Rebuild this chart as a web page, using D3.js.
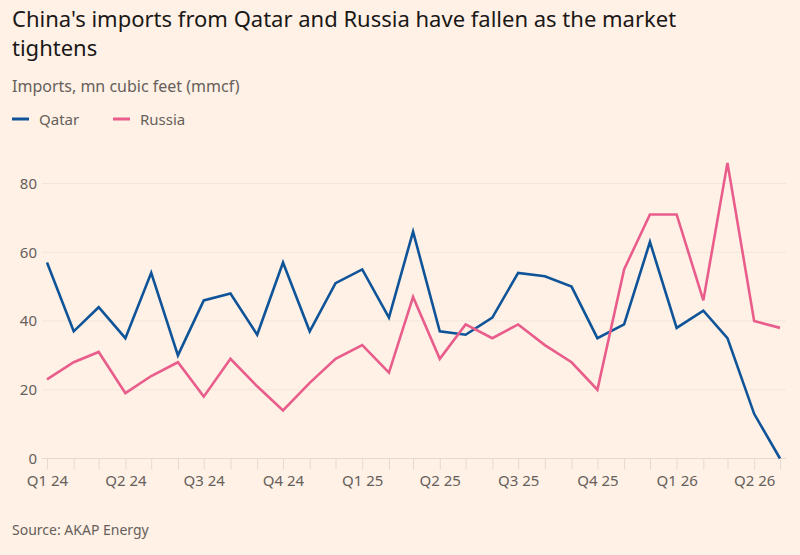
<!DOCTYPE html>
<html>
<head>
<meta charset="utf-8">
<script src="https://cdn.jsdelivr.net/npm/d3@7"></script>
<style>
  body { margin: 0; background: #fff1e5; }
  svg { display: block; font-family: "Noto Sans", sans-serif; }
</style>
</head>
<body>
<svg width="800" height="555"></svg>
<script>
// data ======================================================
// monthly, Jan 2024 .. May 2026
var months = d3.range(29).map(function(i) { return new Date(2024, i, 1); });
var qatar = [57, 37, 44, 35, 54, 30, 46, 48, 36, 57, 37, 51, 55, 41, 66, 37, 36, 41, 54, 53, 50, 35, 39, 63, 38, 43, 35, 13, 0];
var russia = [23, 28, 31, 19, 24, 28, 18, 29, 21, 14, 22, 29, 33, 25, 47, 29, 39, 35, 39, 33, 28, 20, 55, 71, 71, 46, 86, 40, 38];
var yTicks = [0, 20, 40, 60, 80];
var seriesNames = ["Qatar", "Russia"];
var seriesColors = ["#0f5499", "#e95d8c"];

var svg = d3.select("svg"),
    width = +svg.attr("width"),
    height = +svg.attr("height");

svg.append("rect").attr("width", width).attr("height", height).attr("fill", "#fff1e5");

// header
var title = svg.append("text")
    .attr("x", 12)
    .attr("fill", "#1a1817")
    .attr("font-size", 22);
title.append("tspan").attr("x", 12).attr("y", 27).text("China's imports from Qatar and Russia have fallen as the market");
title.append("tspan").attr("x", 12).attr("y", 56).text("tightens");

svg.append("text")
    .attr("x", 12).attr("y", 92)
    .attr("fill", "#66605c")
    .attr("font-size", 16)
    .text("Imports, mn cubic feet (mmcf)");

// legend
var legend = svg.append("g").attr("class", "legend");
var legendX = [12, 113];
seriesNames.forEach(function(name, i) {
  legend.append("line")
    .attr("x1", legendX[i]).attr("x2", legendX[i] + 17)
    .attr("y1", 119).attr("y2", 119)
    .attr("stroke", seriesColors[i])
    .attr("stroke-width", 3);
  legend.append("text")
    .attr("x", legendX[i] + 27).attr("y", 125)
    .attr("fill", "#66605c")
    .attr("font-size", 15)
    .text(name);
});

// scales
var x = d3.scaleTime()
    .domain([months[0], months[months.length - 1]])
    .range([47, 780]);
var y = d3.scaleLinear()
    .domain([0, 80])
    .range([458.5, 183.5]);

// gridlines
svg.append("g").attr("class", "grid")
  .selectAll("line")
  .data(yTicks)
  .enter().append("line")
    .attr("x1", 42).attr("x2", 786)
    .attr("y1", function(d) { return y(d); })
    .attr("y2", function(d) { return y(d); })
    .attr("stroke", function(d) { return d == 0 ? "#e6d9ce" : "#f2e5da"; })
    .attr("stroke-width", 1);

// y axis labels
var yAxis = svg.append("g")
    .attr("transform", "translate(37,0)")
    .call(d3.axisLeft(y).tickValues(yTicks).tickSize(0).tickPadding(0));
yAxis.select(".domain").remove();
yAxis.selectAll("text")
    .attr("fill", "#66605c")
    .attr("font-size", 15)
    .attr("font-family", "Noto Sans, sans-serif");

// x axis - tick every month, label every quarter
var xAxis = svg.append("g")
    .attr("transform", "translate(0," + y(0) + ")")
    .call(d3.axisBottom(x)
      .tickValues(months)
      .tickSize(11)
      .tickPadding(6)
      .tickFormat(function(d) {
        if (d.getMonth() % 3 != 0) return "";
        return "Q" + (d.getMonth() / 3 + 1) + " " + String(d.getFullYear()).slice(2);
      }));
xAxis.select(".domain").remove();
xAxis.selectAll("line").attr("stroke", "#e6d9ce");
xAxis.selectAll("text")
    .attr("fill", "#66605c")
    .attr("font-size", 15)
    .attr("font-family", "Noto Sans, sans-serif");

// lines
var line = d3.line()
    .x(function(d, i) { return x(months[i]); })
    .y(function(d) { return y(d); });

[qatar, russia].forEach(function(values, i) {
  svg.append("path")
    .datum(values)
    .attr("fill", "none")
    .attr("stroke", seriesColors[i])
    .attr("stroke-width", 2.6)
    .attr("stroke-linejoin", "miter")
    .attr("d", line);
});

svg.append("text")
    .attr("x", 12).attr("y", 535)
    .attr("fill", "#66605c")
    .attr("font-size", 14)
    .text("Source: AKAP Energy");
</script>
</body>
</html>
